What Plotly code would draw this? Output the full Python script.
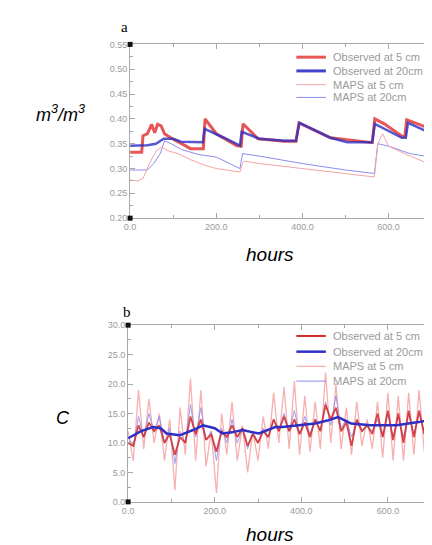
import plotly.graph_objects as go

# ---------------- Panel a: soil moisture (m3/m3) ----------------
a_obs5_hours = [0, 27, 30, 40, 50, 57, 64, 72, 80, 98, 128, 140, 170, 174, 200, 230, 248, 258, 262,
                297, 358, 385, 392, 465, 562, 568, 590, 631, 638, 642, 720]
a_obs5_vals = [0.333, 0.333, 0.366, 0.37, 0.389, 0.372, 0.389, 0.386, 0.37, 0.36, 0.346, 0.34, 0.34, 0.40,
               0.37, 0.355, 0.346, 0.345, 0.39, 0.36, 0.355, 0.355, 0.392, 0.362, 0.352, 0.40, 0.39,
               0.365, 0.365, 0.398, 0.373]

a_obs20_hours = [0, 40, 60, 78, 100, 118, 169, 173, 218, 255, 259, 300, 358, 385, 393, 465, 504, 562,
                 568, 631, 640, 645, 720]
a_obs20_vals = [0.346, 0.347, 0.35, 0.36, 0.36, 0.354, 0.353, 0.38, 0.362, 0.346, 0.374, 0.36, 0.356,
                0.356, 0.392, 0.362, 0.353, 0.353, 0.39, 0.362, 0.362, 0.392, 0.362]

a_maps5_hours = [0, 18, 30, 45, 60, 73, 90, 111, 140, 172, 200, 255, 261, 265, 300, 400, 500, 567,
                 575, 586, 600, 650, 720]
a_maps5_vals = [0.277, 0.275, 0.28, 0.31, 0.335, 0.343, 0.335, 0.33, 0.318, 0.307, 0.30, 0.293, 0.31,
                0.315, 0.31, 0.30, 0.29, 0.283, 0.35, 0.37, 0.345, 0.325, 0.30]

a_maps20_hours = [0, 40, 55, 70, 80, 95, 120, 160, 200, 255, 261, 300, 400, 500, 567, 575, 600, 650, 720]
a_maps20_vals = [0.297, 0.297, 0.31, 0.33, 0.356, 0.35, 0.338, 0.328, 0.323, 0.30, 0.33, 0.325, 0.31,
                 0.297, 0.29, 0.35, 0.345, 0.33, 0.32]

# ---------------- Panel b: temperature (C) ----------------
b_hours = [0, 12, 24, 36, 48, 60, 72, 84, 96, 108, 120, 132, 144, 156, 168, 180, 192, 204, 216, 228,
           240, 252, 264, 276, 288, 300, 312, 324, 336, 348, 360, 372, 384, 396, 408, 420, 432, 444,
           456, 468, 480, 492, 504, 516, 528, 540, 552, 564, 576, 588, 600, 612, 624, 636, 648, 660,
           672, 684, 696, 708, 720]
b_maps5_vals = [12, 7, 19, 9, 17.5, 10, 15, 7, 14, 2, 16, 8, 21, 7, 19, 6, 12, 1.5, 15, 8, 17, 7, 13, 5,
                12, 7, 14.5, 9, 18.5, 10, 19.5, 9, 20.5, 8, 18, 8.5, 17, 9, 22, 10, 20, 9, 16, 8, 17, 9.5,
                14, 9, 17, 7.5, 18.5, 7, 18, 7, 18.5, 8, 19, 8.5, 20, 9, 19]
b_maps20_vals = [11, 9.5, 14.5, 11, 15, 12, 14.5, 10, 12.5, 6.5, 12, 10, 16.5, 11, 16, 10.5, 12, 7, 12.5,
                 10, 14, 10, 12.5, 9, 12, 10, 12.5, 11, 14, 12, 15, 12, 15.5, 11.5, 14.5, 11.5, 14, 12,
                 17, 13, 18, 12.5, 14, 11, 13.5, 12, 13, 12, 14, 11, 15, 11, 14.5, 11, 15, 11.5, 15, 12,
                 15.5, 12, 15]
b_obs5_vals = [10, 9.5, 13, 11, 13.5, 12, 13, 10, 11.5, 8, 11, 10, 14.5, 11.5, 14, 10.5, 11.5, 8.5, 12,
               11, 13, 11, 12.5, 9.5, 11.5, 10, 12, 11, 14, 12, 14.5, 12, 14, 11.5, 13.5, 11, 14, 12,
               16.5, 14, 16, 12, 13.5, 9.5, 14, 12, 13, 11.5, 15, 11, 15.5, 10.5, 15, 10, 15.5, 11, 15.5,
               11.5, 16, 12, 15]
b_obs20_hours = [0, 30, 58, 75, 89, 119, 150, 173, 200, 218, 240, 264, 302, 340, 356, 400, 432, 460,
                 485, 515, 560, 620, 675, 720]
b_obs20_vals = [10.8, 12.0, 12.7, 12.5, 11.6, 11.3, 12.2, 13.0, 12.5, 11.6, 11.8, 12.2, 11.6, 12.7,
                12.7, 13.0, 13.3, 13.8, 14.4, 13.3, 13.0, 13.0, 13.6, 14.3]

legend_names = ["Observed at 5 cm", "Observed at 20cm", "MAPS at 5 cm", "MAPS at 20cm"]
a_yticks = [0.20, 0.25, 0.30, 0.35, 0.40, 0.45, 0.50, 0.55]
b_yticks = [0.0, 5.0, 10.0, 15.0, 20.0, 25.0, 30.0]
x_ticks = [0, 200, 400, 600]

# ---------------- styles ----------------
W, H = 432, 545
RED_OBS = "#e23a3a"
BLUE_OBS = "#2f2fc4"
PINK = "#f5a3a3"
PINK_B = "#f7b0b0"
LBLUE = "#8c8cf2"
AXC = "#a8a8a8"
TICKFONT = dict(family="Liberation Sans", size=9, color="#9a9a9a")

fig = go.Figure()

# panel a traces
fig.add_trace(go.Scatter(x=a_maps20_hours, y=a_maps20_vals, mode="lines", line=dict(color=LBLUE, width=1),
                         xaxis="x", yaxis="y", showlegend=False, name=legend_names[3]))
fig.add_trace(go.Scatter(x=a_maps5_hours, y=a_maps5_vals, mode="lines", line=dict(color=PINK, width=1),
                         xaxis="x", yaxis="y", showlegend=False, name=legend_names[2]))
fig.add_trace(go.Scatter(x=a_obs5_hours, y=a_obs5_vals, mode="lines", line=dict(color=RED_OBS, width=3),
                         opacity=0.85, xaxis="x", yaxis="y", showlegend=False, name=legend_names[0]))
fig.add_trace(go.Scatter(x=a_obs20_hours, y=a_obs20_vals, mode="lines", line=dict(color=BLUE_OBS, width=2.5),
                         opacity=0.8, xaxis="x", yaxis="y", showlegend=False, name=legend_names[1]))

# panel b traces
fig.add_trace(go.Scatter(x=b_hours, y=b_maps5_vals, mode="lines", line=dict(color=PINK_B, width=1.3),
                         xaxis="x2", yaxis="y2", showlegend=False, name=legend_names[2]))
fig.add_trace(go.Scatter(x=b_hours, y=b_maps20_vals, mode="lines", line=dict(color=LBLUE, width=1),
                         opacity=0.85, xaxis="x2", yaxis="y2", showlegend=False, name=legend_names[3]))
fig.add_trace(go.Scatter(x=b_hours, y=b_obs5_vals, mode="lines", line=dict(color="#d42a2a", width=1.8),
                         opacity=0.85, xaxis="x2", yaxis="y2", showlegend=False, name=legend_names[0]))
fig.add_trace(go.Scatter(x=b_obs20_hours, y=b_obs20_vals, mode="lines", line=dict(color=BLUE_OBS, width=2.5),
                         xaxis="x2", yaxis="y2", showlegend=False, name=legend_names[1]))

top_dom = [1 - 209 / H, 1 - 32 / H]
bot_dom = [1 - 498 / H, 1 - 318 / H]


def xaxis_cfg(x0px, rng, anchor):
    return dict(domain=[x0px / W, 1], range=rng, anchor=anchor, tickvals=x_ticks,
                ticktext=[f"{v:.1f}" for v in x_ticks], ticks="inside", ticklen=5, tickcolor=AXC,
                minor=dict(dtick=100, tick0=0, ticks="inside", ticklen=3, tickcolor=AXC),
                showline=True, linecolor=AXC, linewidth=1, mirror="ticks", showgrid=False,
                zeroline=False, tickfont=TICKFONT)


def yaxis_cfg(dom, rng, vals, fmt, minor_dt, anchor):
    return dict(domain=dom, range=rng, anchor=anchor, tickvals=vals, ticktext=[fmt.format(v) for v in vals],
                ticks="inside", ticklen=5, tickcolor=AXC,
                minor=dict(dtick=minor_dt, tick0=0, ticks="inside", ticklen=3, tickcolor=AXC),
                showline=True, linecolor=AXC, linewidth=1, mirror="ticks", showgrid=False,
                zeroline=False, tickfont=TICKFONT)


fig.update_layout(
    width=W, height=H, margin=dict(l=0, r=0, t=0, b=0),
    paper_bgcolor="white", plot_bgcolor="white",
    xaxis=xaxis_cfg(118, [0, 717], "y"),
    yaxis=yaxis_cfg(top_dom, [0.20, 0.55], a_yticks, "{:.2f}", 0.025, "x"),
    xaxis2=xaxis_cfg(116, [0, 718], "y2"),
    yaxis2=yaxis_cfg(bot_dom, [0, 30], b_yticks, "{:.1f}", 2.5, "x2"),
)

# corner squares (pixel-sized, anchored at the plot-area corners)
shapes = []
for xr, yr in (("x domain", "y domain"), ("x2 domain", "y2 domain")):
    for cx in (0, 1):
        for cy in (0, 1):
            shapes.append(dict(type="rect", xref=xr, yref=yr, xsizemode="pixel", ysizemode="pixel",
                               xanchor=cx, yanchor=cy, x0=-2.5, x1=2.5, y0=-2.5, y1=2.5,
                               line=dict(width=0), fillcolor="#111111"))

# manual legends (line samples + text)
leg_styles = [(RED_OBS, 3, 0.85), (BLUE_OBS, 3, 0.9), (PINK, 1, 1), (LBLUE, 1, 1)]
leg_styles_b = [("#d42a2a", 2, 1), (BLUE_OBS, 2.5, 1), (PINK_B, 1.3, 1), (LBLUE, 1, 1)]
annotations = []
for rows, styles in (([45, 59, 73, 86], leg_styles), ([329, 345, 360, 375], leg_styles_b)):
    for (col, lw, op), ypx, name in zip(styles, rows, legend_names):
        yp = 1 - ypx / H
        shapes.append(dict(type="line", xref="paper", yref="paper", x0=287 / W, x1=317 / W, y0=yp, y1=yp,
                           line=dict(color=col, width=lw), opacity=op))
        annotations.append(dict(x=322 / W, y=yp, xref="paper", yref="paper", text=name, showarrow=False,
                                xanchor="left", yanchor="middle",
                                font=dict(family="Liberation Sans", size=11, color="#9a9a9a")))

labels = [
    ("a", 112, 14, dict(family="Liberation Serif", size=15, color="black")),
    ("b", 115, 305, dict(family="Liberation Serif", size=15, color="black")),
    ("<i>m<sup>3</sup>/m<sup>3</sup></i>", 47, 102, dict(family="Liberation Sans", size=18, color="black")),
    ("<i>C</i>", 50, 413, dict(family="Liberation Sans", size=18, color="black")),
    ("<i>hours</i>", 260, 246, dict(family="Liberation Sans", size=19, color="black")),
    ("<i>hours</i>", 260, 531, dict(family="Liberation Sans", size=19, color="black")),
]
for txt, xpx, ypx, f in labels:
    annotations.append(dict(x=xpx / W, y=1 - ypx / H, xref="paper", yref="paper", text=txt, showarrow=False,
                            xanchor="center", yanchor="middle", font=f))

fig.update_layout(shapes=shapes, annotations=annotations)
fig.write_html("out.html")
